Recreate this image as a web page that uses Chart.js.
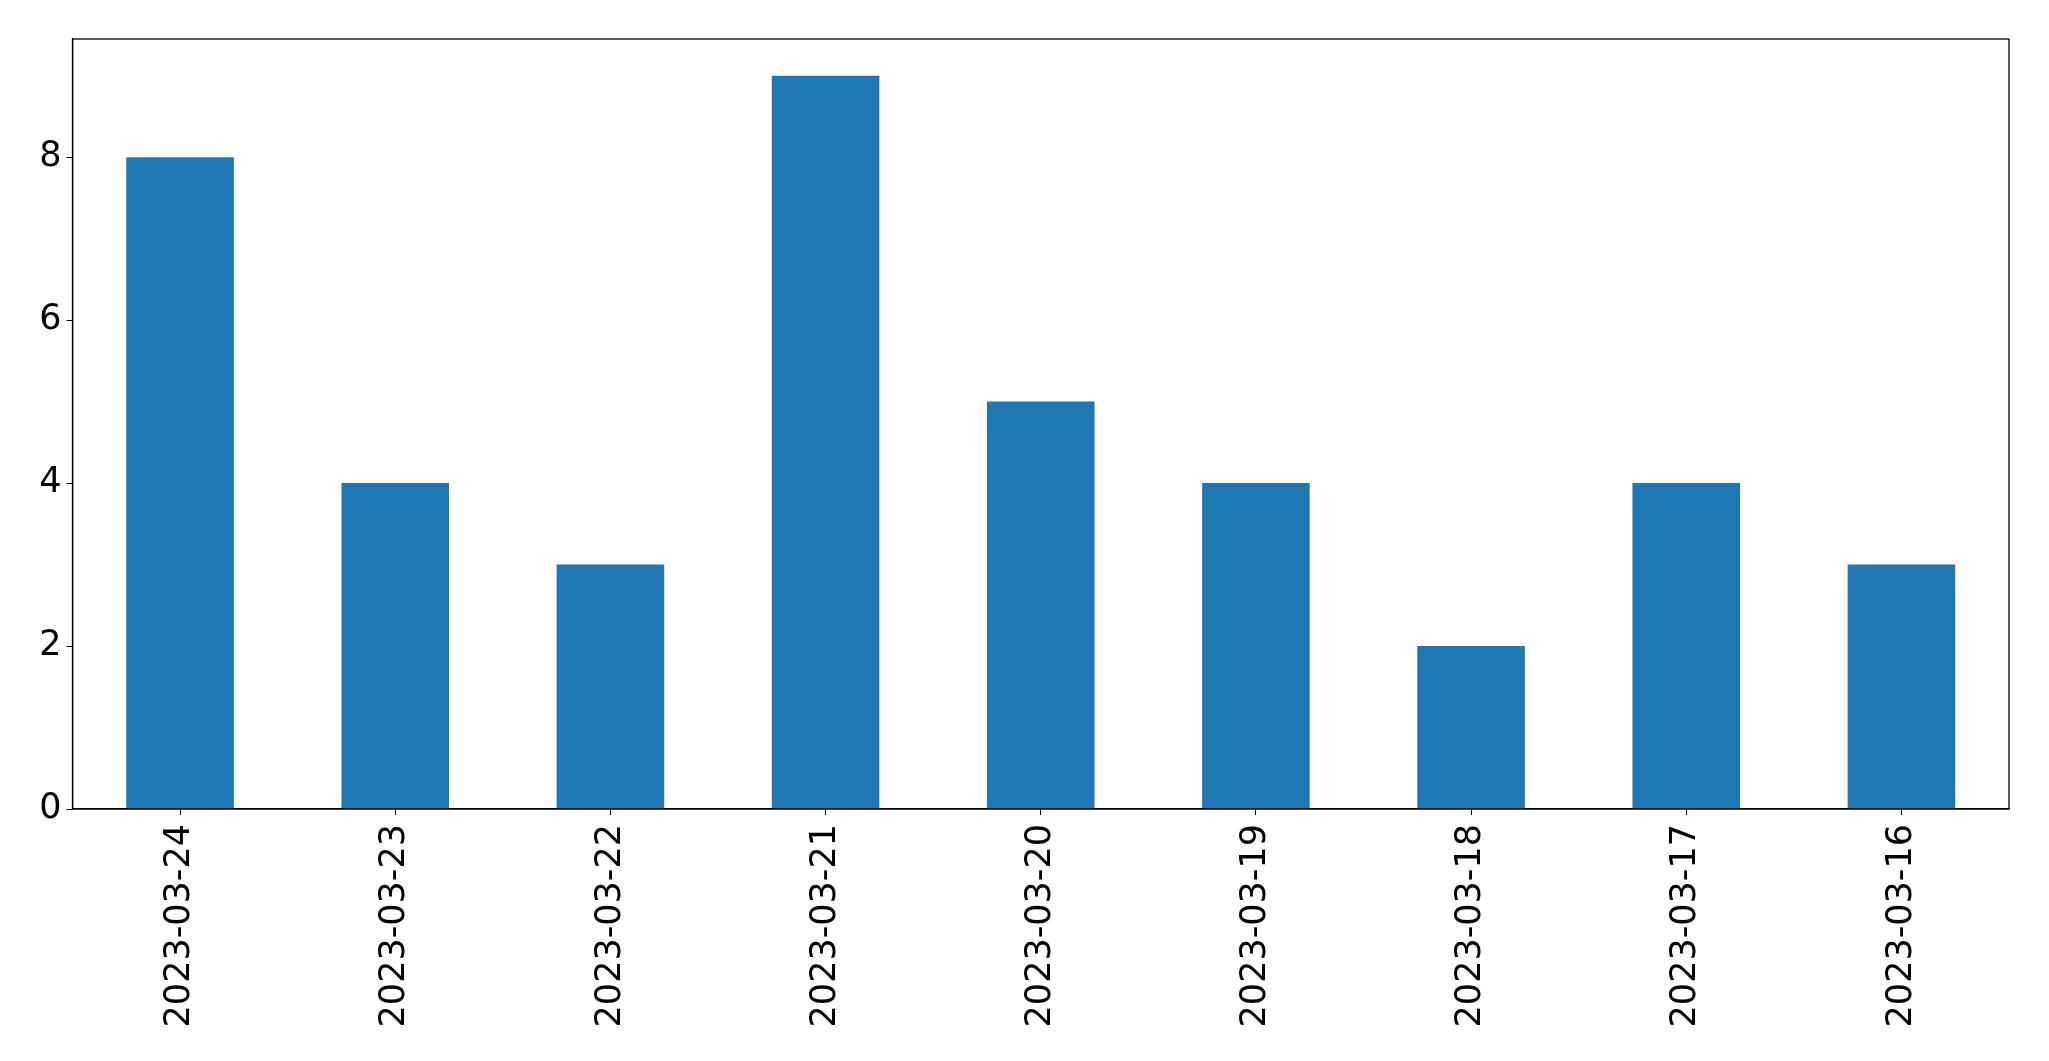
<!DOCTYPE html>
<html>
<head>
  <meta charset="UTF-8">
  <title>Daily Counts</title>
  <script src="https://cdn.jsdelivr.net/npm/chart.js"></script>
</head>
<body style="margin:0;background:#fff">
  <canvas id="chart" width="2049" height="1061"></canvas>
  <script>
    const dates = ['2023-03-24', '2023-03-23', '2023-03-22', '2023-03-21', '2023-03-20',
                   '2023-03-19', '2023-03-18', '2023-03-17', '2023-03-16'];
    const counts = [8, 4, 3, 9, 5, 4, 2, 4, 3];
    const yTicks = [0, 2, 4, 6, 8];

    const font = { family: 'DejaVu Sans', size: 35 };

    // draw the full axes box like matplotlib
    const frame = {
      id: 'frame',
      afterDraw(chart) {
        const a = chart.chartArea, c = chart.ctx;
        c.save();
        c.strokeStyle = '#000';
        c.lineWidth = 1.3;
        c.strokeRect(a.left, a.top, a.right - a.left, a.bottom - a.top);
        c.restore();
      }
    };

    const ctx = document.getElementById('chart').getContext('2d');
    new Chart(ctx, {
      type: 'bar',
      data: {
        labels: dates,
        datasets: [{
          data: counts,
          backgroundColor: '#1f77b4',
          categoryPercentage: 1,
          barPercentage: 0.5
        }]
      },
      options: {
        responsive: false,
        animation: false,
        layout: { padding: { top: 39, right: 40, left: 0, bottom: 0 } },
        plugins: { legend: { display: false }, tooltip: { enabled: false } },
        scales: {
          x: {
            grid: { offset: false, drawOnChartArea: false, drawTicks: true, tickLength: 6, color: '#000' },
            border: { display: true, color: '#000', width: 1.3 },
            ticks: { font: font, color: '#000', minRotation: 90, maxRotation: 90, padding: 9, autoSkip: false },
            afterFit(s) { s.height = 252; }
          },
          y: {
            min: 0,
            max: 9.45,
            afterBuildTicks(s) { s.ticks = yTicks.map(v => ({ value: v })); },
            grid: { drawOnChartArea: false, drawTicks: true, tickLength: 6, color: '#000' },
            border: { display: true, color: '#000', width: 1.3 },
            ticks: { font: font, color: '#000', padding: 5 },
            afterFit(s) { s.width = 72.5; }
          }
        }
      },
      plugins: [frame]
    });
  </script>
</body>
</html>
